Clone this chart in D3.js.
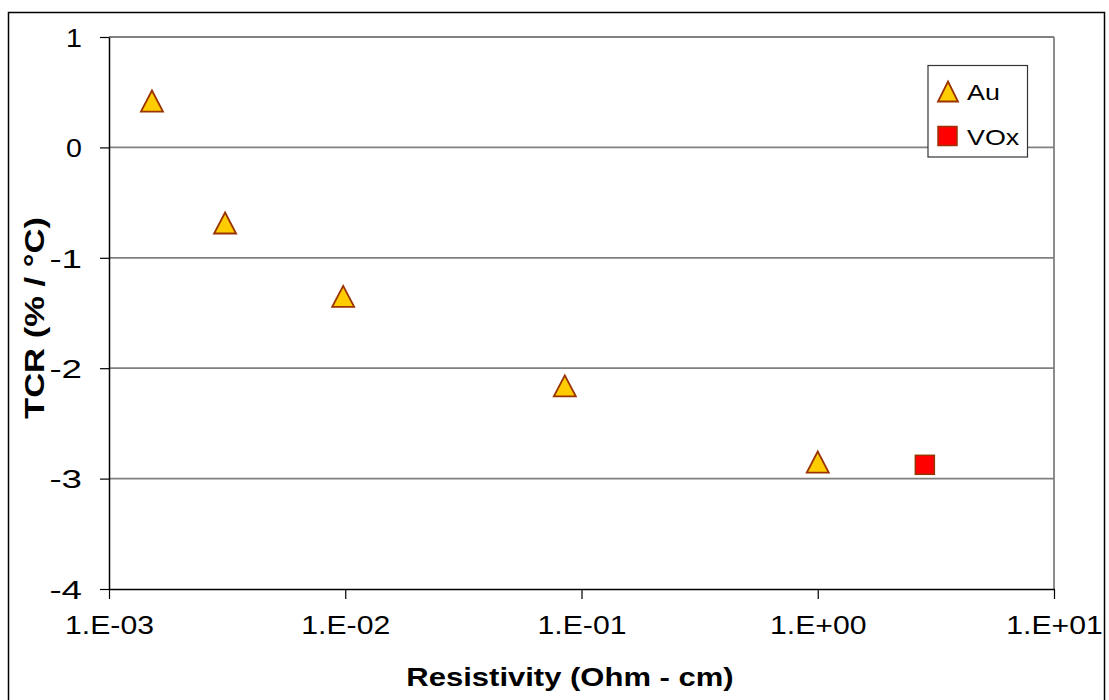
<!DOCTYPE html>
<html>
<head>
<meta charset="utf-8">
<script src="https://cdn.jsdelivr.net/npm/d3@7"></script>
<style>
  body { margin: 0; background: #fff; }
  text { font-family: "Liberation Sans", Arial, sans-serif; fill: #000; }
</style>
</head>
<body>
<svg id="chart"></svg>
<script>
'use strict';

// data
var auResistivity = [1.52e-3, 3.1e-3, 9.8e-3, 8.5e-2, 1.0];
var auTcr = [0.42, -0.685, -1.35, -2.16, -2.85];
var voxResistivity = [2.84];
var voxTcr = [-2.875];
var seriesNames = ['Au', 'VOx'];
var xTicks = [1e-3, 1e-2, 1e-1, 1e0, 1e1];
var xTickLabels = ['1.E-03', '1.E-02', '1.E-01', '1.E+00', '1.E+01'];
var yTicks = [1, 0, -1, -2, -3, -4];

var svgWidth = 1109,
    svgHeight = 700;
var margin = { top: 37, right: 55, bottom: 111, left: 109 };
var width = svgWidth - margin.left - margin.right;
var height = svgHeight - margin.top - margin.bottom;

var svg = d3.select('#chart')
    .attr('width', svgWidth)
    .attr('height', svgHeight);

// outer frame
svg.append('rect')
    .attr('x', 8.5).attr('y', 12.5)
    .attr('width', 1096).attr('height', 700)
    .attr('fill', 'none')
    .attr('stroke', '#000')
    .attr('stroke-width', 1.5);

var g = svg.append('g')
    .attr('transform', 'translate(' + margin.left + ',' + margin.top + ')');

var x = d3.scaleLog().domain([1e-3, 1e1]).range([0, width]);
var y = d3.scaleLinear().domain([-4, 1]).range([height, 0]);

// stretch text horizontally along its baseline, as in the picture
function stretch(sel, factor) {
    sel.each(function () {
        var len = this.getComputedTextLength();
        d3.select(this)
            .attr('textLength', len * factor)
            .attr('lengthAdjust', 'spacingAndGlyphs');
    });
}

// gridlines
g.append('g')
    .selectAll('line')
    .data(yTicks.slice(0, -1))
    .join('line')
    .attr('x1', 0).attr('x2', width)
    .attr('y1', function (d) { return y(d) })
    .attr('y2', function (d) { return y(d) })
    .attr('stroke', '#808080')
    .attr('stroke-width', 1.8);

// right border of plot area
g.append('line')
    .attr('x1', width).attr('x2', width)
    .attr('y1', 0).attr('y2', height)
    .attr('stroke', '#808080')
    .attr('stroke-width', 1.8);

var xAxis = g.append('g')
    .attr('transform', 'translate(0,' + height + ')')
    .call(d3.axisBottom(x)
        .tickValues(xTicks)
        .tickFormat(function (d, i) { return xTickLabels[i] })
        .tickSizeInner(10)
        .tickSizeOuter(0)
        .tickPadding(10));
xAxis.select('.domain').attr('stroke', '#000').attr('stroke-width', 1.5);
xAxis.selectAll('.tick line').attr('stroke', '#000').attr('stroke-width', 1.2);
xAxis.selectAll('text')
    .attr('font-size', 26)
    .attr('dy', '0.95em');
stretch(xAxis.selectAll('text'), 1.16);

var yAxis = g.append('g')
    .call(d3.axisLeft(y)
        .tickValues(yTicks)
        .tickFormat(d3.format('d'))
        .tickSizeInner(9)
        .tickSizeOuter(0)
        .tickPadding(18));
yAxis.select('.domain').attr('stroke', '#000').attr('stroke-width', 1.5);
yAxis.selectAll('.tick line').attr('stroke', '#000').attr('stroke-width', 1.2);
yAxis.selectAll('text')
    .attr('font-size', 26)
    .attr('dy', '0.36em');
stretch(yAxis.selectAll('text'), 1.1);
yAxis.selectAll('text').text(function (d) { return d < 0 ? '-' + Math.abs(d) : d });

// axis titles
var xTitle = svg.append('text')
    .attr('x', 570)
    .attr('y', 686)
    .attr('text-anchor', 'middle')
    .attr('font-size', 25)
    .attr('font-weight', 'bold')
    .text('Resistivity (Ohm - cm)');
stretch(xTitle, 1.24);

var yTitle = svg.append('text')
    .attr('transform', 'translate(44,318) rotate(-90)')
    .attr('text-anchor', 'middle')
    .attr('font-size', 27)
    .attr('font-weight', 'bold')
    .text('TCR (% / °C)');
stretch(yTitle, 1.28);

// markers
var triangle = 'M0,-10.5L11,10.5L-11,10.5Z';

g.append('g')
    .selectAll('path')
    .data(auResistivity)
    .join('path')
    .attr('transform', function (d, i) {
        return 'translate(' + x(d) + ',' + y(auTcr[i]) + ')';
    })
    .attr('d', triangle)
    .attr('fill', '#FFCC00')
    .attr('stroke', '#993300')
    .attr('stroke-width', 1.8)
    .attr('stroke-linejoin', 'miter');

g.append('g')
    .selectAll('rect')
    .data(voxResistivity)
    .join('rect')
    .attr('x', function (d) { return x(d) - 9.5 })
    .attr('y', function (d, i) { return y(voxTcr[i]) - 9.5 })
    .attr('width', 19)
    .attr('height', 19)
    .attr('fill', '#FF0000')
    .attr('stroke', '#993300')
    .attr('stroke-width', 1.5);

// legend
var legend = svg.append('g')
    .attr('transform', 'translate(928,65.5)');
legend.append('rect')
    .attr('width', 99.5)
    .attr('height', 91.5)
    .attr('fill', '#fff')
    .attr('stroke', '#333')
    .attr('stroke-width', 1.2);

legend.append('path')
    .attr('transform', 'translate(20,26)')
    .attr('d', 'M0,-10L10,10L-10,10Z')
    .attr('fill', '#FFCC00')
    .attr('stroke', '#993300')
    .attr('stroke-width', 1.8);
legend.append('rect')
    .attr('x', 10).attr('y', 61)
    .attr('width', 19).attr('height', 19)
    .attr('fill', '#FF0000')
    .attr('stroke', '#993300')
    .attr('stroke-width', 1.5);

var legendText = legend.selectAll('text.lbl')
    .data(seriesNames)
    .join('text')
    .attr('class', 'lbl')
    .attr('x', 39)
    .attr('y', function (d, i) { return 34 + i * 45 })
    .attr('font-size', 22)
    .text(function (d) { return d });
stretch(legendText, 1.22);
</script>
</body>
</html>
